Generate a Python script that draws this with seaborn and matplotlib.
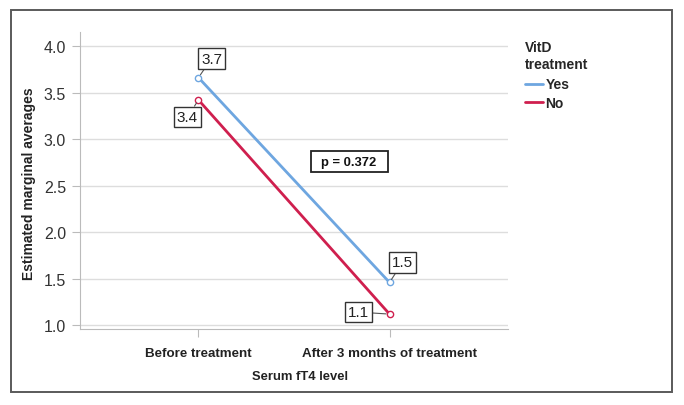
import matplotlib
matplotlib.use("Agg")
import matplotlib.pyplot as plt
import matplotlib.patches as mpatches
import pandas as pd
import seaborn as sns

# -------------------------
# Data
# -------------------------
periods = ["Before treatment", "After 3 months of treatment"]
groups = ["Yes", "No"]
yes_values = [3.66, 1.46]
no_values = [3.42, 1.12]
point_labels = {"Yes": ["3.7", "1.5"], "No": ["3.4", "1.1"]}
p_text = "p = 0.372"

df = pd.DataFrame({
    "period": periods * 2,
    "group": ["Yes"] * 2 + ["No"] * 2,
    "value": yes_values + no_values,
})

palette = {"Yes": "#6ea6e0", "No": "#cf1f4e"}

# -------------------------
# Style
# -------------------------
sns.set_style("white")
plt.rcParams["font.family"] = ["Liberation Sans", "DejaVu Sans"]

W, H = 684, 406
fig = plt.figure(figsize=(W / 100, H / 100), dpi=100)
ax = fig.add_axes([80 / W, 1 - 330 / H, 428 / W, 297 / H])

# outer frame
fig.patches.append(mpatches.Rectangle(
    (11 / W, 1 - 393 / H), 661 / W, 382 / H,
    transform=fig.transFigure, fill=False, edgecolor="#5a5a5a", lw=1.4))

sns.lineplot(data=df, x="period", y="value", hue="group", hue_order=groups,
             palette=palette, marker="o", markersize=4.5, markerfacecolor="none",
             markeredgewidth=1, linewidth=2, ax=ax, legend=True)
for line in ax.lines:
    line.set_markeredgecolor(line.get_color())
    line.set_markerfacecolor("#ffffff")

xlim = (-0.62, 1.62)
ylim = (0.96, 4.15)
ax.set_xlim(*xlim)
ax.set_ylim(*ylim)
yticks = [1.0, 1.5, 2.0, 2.5, 3.0, 3.5, 4.0]
ax.set_yticks(yticks)
ax.set_yticklabels([f"{v:.1f}" for v in yticks])
ax.grid(axis="y", color="#dddddd", lw=1)
ax.set_axisbelow(True)
for s in ["top", "right"]:
    ax.spines[s].set_visible(False)
for s in ["left", "bottom"]:
    ax.spines[s].set_color("#bbbbbb")
ax.tick_params(axis="y", left=True, length=6, color="#bbbbbb", labelsize=11.5,
               labelcolor="#333333", pad=4)
ax.tick_params(axis="x", bottom=True, length=6, color="#bbbbbb", labelsize=9.6,
               labelcolor="#222222", pad=7)
for t in ax.get_xticklabels():
    t.set_fontweight("bold")

ax.set_ylabel("")
ax.set_xlabel("")
fig.text(29 / W, 1 - 184 / H, "Estimated marginal averages", rotation=90,
         fontsize=10, fontweight="bold", ha="center", va="center", color="#222222")
fig.text(300 / W, 1 - 377 / H, "Serum fT4 level", fontsize=9.4,
         fontweight="bold", ha="center", va="center", color="#222222")

# legend
handles, labels = ax.get_legend_handles_labels()
leg = ax.legend(handles, labels, title="VitD\ntreatment", loc="upper left",
                bbox_to_anchor=(1.039, 0.972), frameon=False, alignment="left",
                handlelength=1.35, handletextpad=0.15, labelspacing=0.3,
                borderaxespad=0, borderpad=0,
                prop={"weight": "bold", "size": 10})
leg.get_title().set_fontweight("bold")
leg.get_title().set_fontsize(10)
leg._legend_box.sep = 5
for line in leg.get_lines():
    line.set_marker("")
    line.set_linewidth(2)

# -------------------------
# Value annotations
# -------------------------
offsets = {"Yes": [(13, 19), (13, 20)], "No": [(-11, -17), (-31, 2)]}
values = {"Yes": yes_values, "No": no_values}
for g in groups:
    for i in range(2):
        ax.annotate(point_labels[g][i], xy=(i, values[g][i]),
                    xytext=offsets[g][i], textcoords="offset pixels",
                    ha="center", va="center", fontsize=11, color="#222222",
                    bbox=dict(boxstyle="square,pad=0.22", fc="white", ec="#333333", lw=1),
                    arrowprops=dict(arrowstyle="-", color="#555555", lw=0.8,
                                    shrinkA=0, shrinkB=2.5))

# p-value box
px_x = 428 / (xlim[1] - xlim[0])
px_y = 297 / (ylim[1] - ylim[0])
p_x, p_y = 0.788, 2.758
ax.add_patch(mpatches.Rectangle((p_x - 38.5 / px_x, p_y - 10.5 / px_y),
                                77 / px_x, 21 / px_y, fc="white",
                                ec="#222222", lw=1.3, zorder=4))
ax.text(p_x, p_y, p_text, ha="center", va="center", fontsize=9.4,
        fontweight="bold", color="#111111", zorder=5)

fig.savefig("out.png", dpi=100)
